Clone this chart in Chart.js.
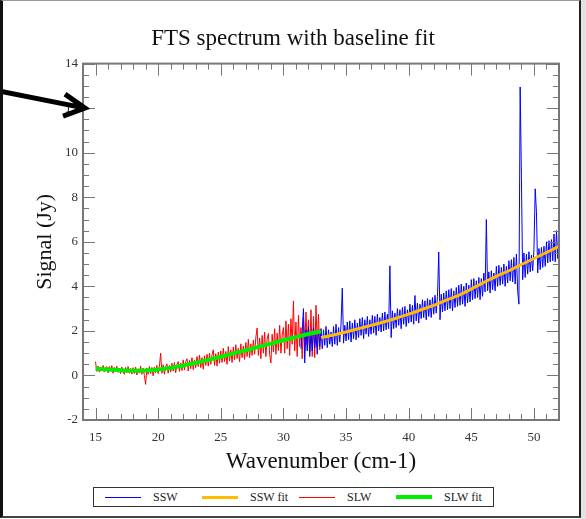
<!DOCTYPE html>
<html>
<head>
<meta charset="utf-8">
<script src="https://cdn.jsdelivr.net/npm/chart.js@4.4.0/dist/chart.umd.min.js"></script>
<style>
    html, body { margin: 0; padding: 0; background: #fff; }
    #lienzo { position: relative; width: 586px; height: 519px; overflow: hidden; background: #fff; }
    #grafica { position: absolute; left: 0; top: 0; }
    #marco { position: absolute; left: 0; top: 0; width: 576px; height: 515px; pointer-events: none;
             border-left: 3px solid #111; border-right: 2px solid #222; border-top: 1px solid #999; border-bottom: 2px solid #444; }
    #lateral { position: absolute; left: 581px; top: 0; width: 5px; height: 519px; background: #e2e2e2; }
    #leyenda { position: absolute; left: 93px; top: 487px; width: 388px; height: 18px; border: 1px solid #333;
               display: flex; align-items: center; padding-left: 11px; box-sizing: content-box;
               font-family: 'Liberation Serif', 'Times New Roman', serif; font-size: 12px; color: #222; }
    #leyenda .item { width: 97px; display: flex; align-items: center; flex: none; }
    #leyenda svg { display: block; margin-right: 12px; flex: none; }
</style>
</head>
<body>
<div id="lienzo">
    <canvas id="grafica" width="586" height="480"></canvas>
    <div id="leyenda"></div>
    <div id="lateral"></div>
    <div id="marco"></div>
</div>
<script>
// Rejilla de muestreo de cada banda (cm-1)
const slwInicio = 15.0, sswInicio = 31.4, paso = 0.1;

// SLW (rojo), cada 0.1 cm-1 desde 15.0
const slwValores = [
    0.62, 0.18, 0.42, 0.15, 0.38, 0.20, 0.45, 0.16, 0.35, 0.40,
    0.12, 0.40, 0.20, 0.44, 0.10, 0.36, 0.18, 0.42, 0.14, 0.33,
    0.08, 0.38, 0.15, 0.05, 0.36, 0.12, 0.40, 0.10, 0.32, 0.06,
    0.35, 0.08, 0.38, 0.02, 0.30, 0.10, 0.42, 0.05, 0.33, 0.00,
    -0.40, 0.34, 0.05, 0.40, 0.08, 0.36, -0.02, 0.38, 0.12, 0.45,
    0.08, 0.42, 1.00, 0.10, 0.48, 0.05, 0.40, 0.52, 0.10, 0.45,
    0.15, 0.55, 0.20, 0.58, 0.12, 0.50, 0.62, 0.18, 0.55, 0.22,
    0.70, 0.25, 0.62, 0.75, 0.20, 0.68, 0.30, 0.80, 0.26, 0.70,
    0.35, 0.85, 0.40, 0.92, 0.35, 0.80, 0.28, 0.88, 0.45, 0.95,
    0.42, 1.00, 0.50, 0.92, 1.15, 0.45, 0.98, 0.42, 1.05, 0.55,
    1.10, 0.58, 1.22, 0.62, 1.08, 0.50, 1.30, 0.65, 1.15, 0.58,
    1.28, 0.70, 1.38, 0.76, 1.22, 0.62, 1.42, 0.80, 1.32, 0.72,
    1.48, 0.85, 1.62, 0.80, 1.42, 0.90, 1.58, 0.95, 1.72, 2.13,
    0.90, 1.68, 0.75, 1.80, 1.00, 1.95, 0.85, 1.62, 1.88, 0.95,
    0.56, 1.85, 1.05, 2.10, 0.95, 1.90, 1.12, 2.25, 1.00, 1.80,
    2.15, 1.00, 2.45, 1.20, 2.30, 0.90, 2.55, 1.40, 3.35, 1.10,
    2.40, 0.85, 2.70, 1.30, 2.15, 0.75, 2.60, 1.15, 2.85, 1.40,
    2.50, 1.05, 2.95, 0.85, 2.65, 0.80, 3.15, 1.30, 2.75, 1.15,
    2.10
];

// SSW (azul), cada 0.1 cm-1 desde 31.4
const sswValores = [
    1.20, 2.00, 3.00, 0.56, 2.05, 1.10,
    2.20, 0.85, 1.95, 1.10, 2.15, 1.25, 1.90, 0.95, 2.05, 1.30,
    2.10, 1.20, 2.05, 1.35, 2.20, 1.25, 2.05, 1.40, 1.95, 1.30,
    2.20, 1.40, 2.30, 1.35, 2.15, 1.50, 2.30, 3.92, 1.45, 2.25,
    1.55, 2.40, 1.60, 2.45, 1.50, 2.35, 1.65, 2.50, 1.60, 2.35,
    1.70, 2.55, 1.80, 2.60, 1.65, 2.50, 1.85, 2.65, 1.75, 2.50,
    1.85, 2.70, 1.90, 2.65, 1.80, 2.75, 2.00, 2.60, 1.95, 2.80,
    2.00, 2.85, 2.05, 2.75, 2.10, 4.92, 1.70, 2.90, 2.10, 2.80,
    2.15, 3.00, 2.25, 2.95, 2.10, 3.05, 2.30, 3.10, 2.20, 2.95,
    2.35, 3.20, 2.40, 3.15, 2.30, 3.59, 2.45, 3.25, 2.35, 3.20,
    2.55, 3.40, 2.60, 3.35, 2.50, 3.45, 2.65, 3.40, 2.60, 3.50,
    2.75, 3.60, 2.80, 3.55, 5.54, 2.50, 3.65, 2.85, 3.70, 2.90,
    3.80, 2.95, 3.85, 3.00, 3.90, 2.90, 3.80, 3.05, 3.95, 3.10,
    4.05, 3.15, 4.10, 3.20, 4.00, 3.10, 4.15, 3.25, 4.05, 3.30,
    4.30, 3.40, 4.35, 3.45, 4.25, 3.50, 4.40, 3.40, 4.35, 3.55,
    4.60, 3.75, 7.00, 3.80, 4.65, 3.70, 4.70, 3.85, 4.60, 3.80,
    4.90, 4.00, 4.95, 4.05, 4.85, 4.10, 5.00, 4.00, 4.90, 4.15,
    5.15, 4.25, 5.20, 4.20, 5.30, 4.10, 5.45, 3.80, 3.20, 12.95,
    8.90, 4.30, 5.50, 4.40, 5.45, 4.55, 5.55, 4.65, 5.40, 4.70,
    5.65, 8.38, 7.35, 4.60, 5.70, 4.75, 5.75, 4.85, 5.80, 4.90,
    6.00, 5.05, 6.05, 5.10, 6.10, 5.15, 6.35, 5.10, 6.50, 5.25,
    6.30
];

// Ajustes de linea base, un punto por cm-1
const slwAjusteX = [15, 16, 17, 18, 19, 20, 21, 22, 23, 24, 25, 26, 27, 28, 29, 30, 31, 32, 33];
const slwAjusteY = [0.30, 0.27, 0.23, 0.21, 0.22, 0.27, 0.34, 0.45, 0.57, 0.70, 0.84, 0.99, 1.13, 1.28, 1.43, 1.58, 1.72, 1.86, 1.98];
const sswAjusteX = [33, 34, 35, 36, 37, 38, 39, 40, 41, 42, 43, 44, 45, 46, 47, 48, 49, 50, 51, 52];
const sswAjusteY = [1.70, 1.82, 1.95, 2.10, 2.25, 2.40, 2.57, 2.75, 2.95, 3.15, 3.38, 3.60, 3.88, 4.18, 4.45, 4.70, 4.98, 5.25, 5.52, 5.80];

// Ejes
const xMin = 14, xMax = 52, xPaso = 5;
const yMin = -2, yMax = 14, yPaso = 2;

const fuente = "'Liberation Serif', 'Times New Roman', serif";

const aPuntos = (inicio, valores) => valores.map((v, i) => ({ x: +(inicio + i * paso).toFixed(1), y: v }));
const aPares = (xs, ys) => xs.map((x, i) => ({ x: x, y: ys[i] }));

// Marco gris con marcas hacia dentro en los cuatro lados
const marcoEjes = {
    id: 'marcoEjes',
    afterDatasetsDraw(chart) {
        const { ctx, chartArea: a, scales: { x, y } } = chart;
        ctx.save();
        ctx.strokeStyle = '#777';
        ctx.lineWidth = 1;
        ctx.beginPath();
        for (let v = xMin; v <= xMax; v++) {
            const px = Math.round(x.getPixelForValue(v)) + 0.5;
            const largo = v % 5 === 0 ? 12 : 6;
            ctx.moveTo(px, a.bottom); ctx.lineTo(px, a.bottom - largo);
            ctx.moveTo(px, a.top); ctx.lineTo(px, a.top + largo);
        }
        for (let v = yMin; v <= yMax; v += 0.5) {
            const py = Math.round(y.getPixelForValue(v)) + 0.5;
            const largo = v % 2 === 0 ? 12 : 6;
            ctx.moveTo(a.left, py); ctx.lineTo(a.left + largo, py);
            ctx.moveTo(a.right, py); ctx.lineTo(a.right - largo, py);
        }
        ctx.stroke();
        ctx.lineWidth = 2;
        ctx.strokeRect(a.left, a.top, a.right - a.left, a.bottom - a.top);
        ctx.restore();
    }
};

// Flecha negra que senala el 12 del eje Y
const flecha = {
    id: 'flecha',
    afterDraw(chart) {
        const { ctx, chartArea: a, scales: { y } } = chart;
        const tx = a.left + 2, ty = y.getPixelForValue(12);
        ctx.save();
        ctx.strokeStyle = '#000';
        ctx.lineWidth = 5;
        ctx.beginPath();
        ctx.moveTo(0, ty - 17); ctx.lineTo(tx, ty);
        ctx.moveTo(tx - 20, ty - 14); ctx.lineTo(tx, ty); ctx.lineTo(tx - 22, ty + 8);
        ctx.stroke();
        ctx.restore();
    }
};

document.addEventListener("DOMContentLoaded", function () {
    const grafica = document.getElementById('grafica');

    // El primero se dibuja encima; la leyenda usa 'puesto'
    const datasets = [
        { label: 'SLW fit', puesto: 3, data: aPares(slwAjusteX, slwAjusteY), borderColor: '#00ee00', borderWidth: 4, cubicInterpolationMode: 'monotone' },
        { label: 'SSW fit', puesto: 1, data: aPares(sswAjusteX, sswAjusteY), borderColor: '#ffbb00', borderWidth: 3, cubicInterpolationMode: 'monotone' },
        { label: 'SSW', puesto: 0, data: aPuntos(sswInicio, sswValores), borderColor: '#0000ff', borderWidth: 1 },
        { label: 'SLW', puesto: 2, data: aPuntos(slwInicio, slwValores), borderColor: '#ff0000', borderWidth: 1 }
    ];

    new Chart(grafica, {
        type: 'line',
        data: { datasets: datasets },
        options: {
            responsive: false,
            animation: false,
            parsing: false,
            elements: { point: { radius: 0 } },
            layout: { padding: 0 },
            plugins: {
                legend: { display: false },
                tooltip: { enabled: false },
                title: {
                    display: true,
                    text: 'FTS spectrum with baseline fit',
                    color: '#111',
                    font: { family: fuente, size: 23, weight: 'normal' },
                    padding: { top: 25, bottom: 11 }
                }
            },
            scales: {
                x: {
                    type: 'linear', min: xMin, max: xMax,
                    grid: { display: false, drawTicks: false },
                    border: { display: false },
                    ticks: { stepSize: xPaso, includeBounds: false, padding: 10, maxRotation: 0, color: '#333', font: { family: fuente, size: 13 } },
                    title: { display: true, text: 'Wavenumber (cm-1)', color: '#111', font: { family: fuente, size: 23 }, padding: { top: 0, bottom: 4 } },
                    afterFit: (s) => { s.height = 60; }
                },
                y: {
                    min: yMin, max: yMax,
                    grid: { display: false, drawTicks: false },
                    border: { display: false },
                    ticks: { stepSize: yPaso, padding: 5, color: '#333', font: { family: fuente, size: 13 } },
                    title: { display: true, text: 'Signal (Jy)', color: '#111', font: { family: fuente, size: 22 }, padding: { top: 32, bottom: 0 } },
                    afterFit: (s) => { s.width = 83; }
                },
                // eje vacio a la derecha: deja el margen sin descentrar el titulo
                yDer: {
                    position: 'right', min: yMin, max: yMax,
                    grid: { display: false, drawTicks: false },
                    border: { display: false },
                    ticks: { display: false },
                    afterFit: (s) => { s.width = 27; }
                }
            }
        },
        plugins: [marcoEjes, flecha]
    });

    // Leyenda en caja, columnas fijas
    const leyenda = document.getElementById('leyenda');
    const svgNS = 'http://www.w3.org/2000/svg';
    datasets.slice().sort((a, b) => a.puesto - b.puesto).forEach(ds => {
        const item = document.createElement('div');
        item.className = 'item';
        const svg = document.createElementNS(svgNS, 'svg');
        svg.setAttribute('width', '36');
        svg.setAttribute('height', '6');
        const linea = document.createElementNS(svgNS, 'line');
        const yl = ds.borderWidth % 2 ? 3.5 : 3;
        linea.setAttribute('x1', '0'); linea.setAttribute('x2', '36');
        linea.setAttribute('y1', yl); linea.setAttribute('y2', yl);
        linea.setAttribute('stroke', ds.borderColor);
        linea.setAttribute('stroke-width', ds.borderWidth);
        svg.appendChild(linea);
        const texto = document.createElement('span');
        texto.textContent = ds.label;
        item.appendChild(svg);
        item.appendChild(texto);
        leyenda.appendChild(item);
    });
});
</script>
</body>
</html>
